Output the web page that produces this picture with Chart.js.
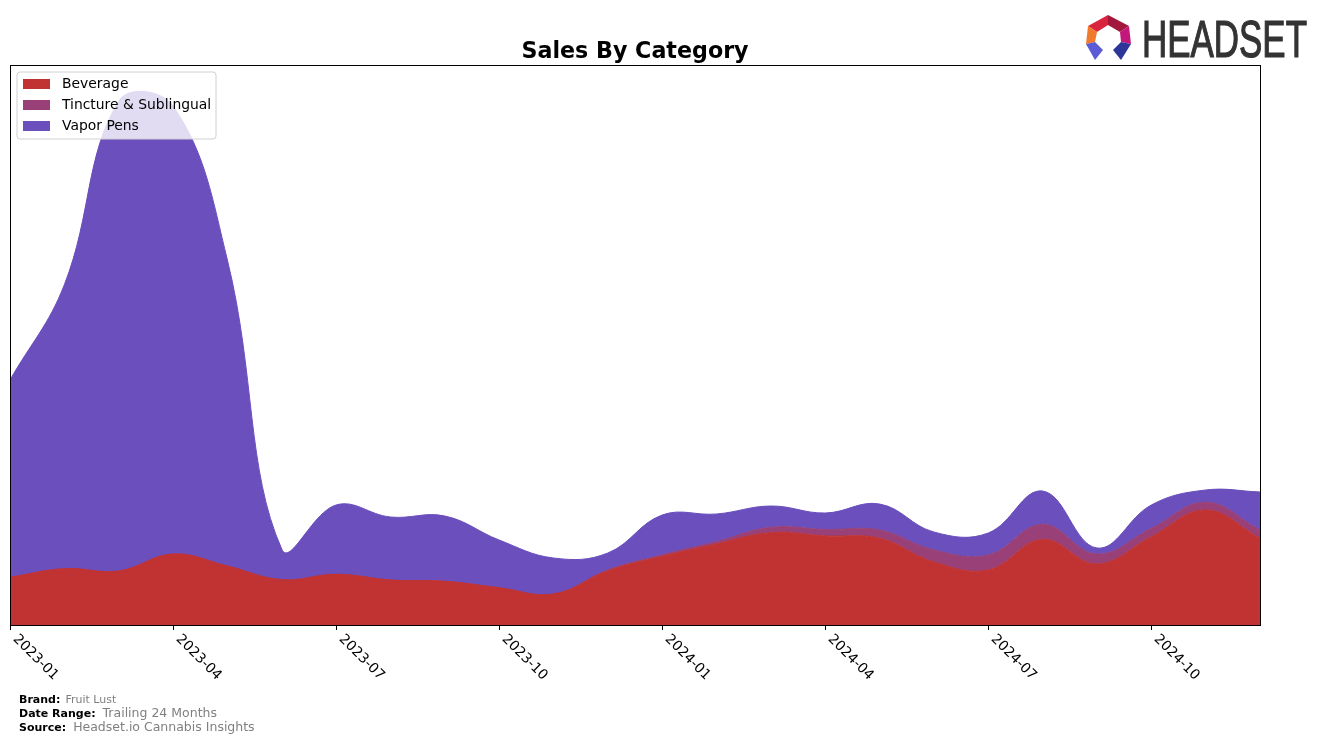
<!DOCTYPE html>
<html><head><meta charset="utf-8">
<script src="https://cdn.jsdelivr.net/npm/chart.js@4.4.1/dist/chart.umd.min.js"></script>
<style>
html,body{margin:0;padding:0;background:#fff;width:1324px;height:742px;overflow:hidden;position:relative;font-family:"DejaVu Sans",sans-serif;}
#c{position:absolute;left:0;top:0;}
.foot{position:absolute;left:19px;white-space:nowrap;color:#000;line-height:1;}
.foot b{font-weight:bold;font-size:11px;}
.g{color:#808080;}
#logo{position:absolute;left:0;top:0;}
</style></head><body>
<canvas id="c" width="1324" height="742"></canvas>
<svg id="logo" width="1324" height="70">
  <polygon points="1108,15 1088,26 1097,32 1108,25" fill="#d8243c"/>
  <polygon points="1108,15 1129,26 1120,32 1108,25" fill="#a3173c"/>
  <polygon points="1088,26 1086,44 1095,42 1097,32" fill="#f07a2c"/>
  <polygon points="1129,26 1131,44 1121,42 1120,32" fill="#c2187c"/>
  <polygon points="1086,44 1095,42 1103,50 1095,60" fill="#5b5bd6"/>
  <polygon points="1131,44 1121,42 1113,50 1121,60" fill="#2e3598"/>
  <text x="1142" y="57" font-family="Liberation Sans Narrow, Liberation Sans, sans-serif" font-size="52" fill="#333333" stroke="#333333" stroke-width="1.2" textLength="165" lengthAdjust="spacingAndGlyphs">HEADSET</text>
</svg>
<div class="foot" style="top:690px;"><b>Brand:</b> <span class="g" style="font-size:11px;">Fruit Lust</span></div>
<div class="foot" style="top:704px;"><b>Date Range:</b><span class="g" style="font-size:12.5px;margin-left:7px;">Trailing 24 Months</span></div>
<div class="foot" style="top:718px;"><b>Source:</b><span class="g" style="font-size:12.5px;margin-left:7px;">Headset.io Cannabis Insights</span></div>
<script>
const months = ["2023-01","2023-02","2023-03","2023-04","2023-05","2023-06","2023-07","2023-08","2023-09","2023-10","2023-11","2023-12",
                "2024-01","2024-02","2024-03","2024-04","2024-05","2024-06","2024-07","2024-08","2024-09","2024-10","2024-11","2024-12"];
const tickLabels = ["2023-01","2023-04","2023-07","2023-10","2024-01","2024-04","2024-07","2024-10"];
const beverage = [47.7, 56.3, 54, 71, 59, 45.3, 50.7, 45, 43.7, 37.3, 31, 54.3, 68.7, 81, 92.3, 89, 86.7, 63, 55, 85.7, 61, 88.3, 115, 86.7];
const tincture = [0, 0, 0, 0, 0, 0, 0, 0, 0, 0, 0, 0.8, 1.5, 2.5, 5.4, 6.5, 8.3, 12, 15, 15, 10, 8.4, 7.7, 8.3];
const vaporPens = [197.3, 284, 470, 448, 306, 30.7, 69.3, 63, 65.3, 47.7, 36, 16.9, 39.8, 27.5, 21.3, 16.5, 26, 18, 22, 33.3, 6, 23.3, 12.3, 38];
const seriesNames = ["Beverage", "Tincture & Sublingual", "Vapor Pens"];
const seriesColors = ["#c03332", "#984077", "#6a4fbd"];
const chartTitle = "Sales By Category";

const overlay = {
  id: "overlay",
  afterDraw(chart) {
    const ctx = chart.ctx, a = chart.chartArea, xs = chart.scales.x;
    ctx.save();
    ctx.strokeStyle = "#000"; ctx.lineWidth = 1;
    ctx.strokeRect(Math.round(a.left) + 0.5, Math.round(a.top) + 0.5, Math.round(a.right - a.left), Math.round(a.bottom - a.top));
    ctx.fillStyle = "#000";
    ctx.font = "13.9px 'DejaVu Sans'";
    ctx.textAlign = "left"; ctx.textBaseline = "top";
    tickLabels.forEach(lab => {
      const x = Math.round(xs.getPixelForValue(months.indexOf(lab)));
      ctx.beginPath(); ctx.moveTo(x + 0.5, a.bottom); ctx.lineTo(x + 0.5, a.bottom + 5); ctx.stroke();
      ctx.save();
      ctx.translate(x + 10, a.bottom + 7);
      ctx.rotate(Math.PI / 4);
      ctx.fillText(lab, 0, 0);
      ctx.restore();
    });
    ctx.font = "bold 22.2px 'DejaVu Sans'";
    ctx.textAlign = "center"; ctx.textBaseline = "alphabetic";
    ctx.fillText(chartTitle, (a.left + a.right) / 2, 58);
    const lx = 17, ly = 72, lw = 199, lh = 67, r = 3;
    ctx.beginPath();
    ctx.moveTo(lx + r, ly); ctx.lineTo(lx + lw - r, ly); ctx.quadraticCurveTo(lx + lw, ly, lx + lw, ly + r);
    ctx.lineTo(lx + lw, ly + lh - r); ctx.quadraticCurveTo(lx + lw, ly + lh, lx + lw - r, ly + lh);
    ctx.lineTo(lx + r, ly + lh); ctx.quadraticCurveTo(lx, ly + lh, lx, ly + lh - r);
    ctx.lineTo(lx, ly + r); ctx.quadraticCurveTo(lx, ly, lx + r, ly); ctx.closePath();
    ctx.fillStyle = "rgba(255,255,255,0.8)"; ctx.fill();
    ctx.strokeStyle = "#d0d0d0"; ctx.stroke();
    ctx.font = "13.9px 'DejaVu Sans'"; ctx.textAlign = "left"; ctx.textBaseline = "middle";
    chart.data.datasets.forEach((ds, i) => {
      const cy = 84 + i * 21;
      ctx.fillStyle = ds.backgroundColor;
      ctx.fillRect(23, cy - 5, 27, 10);
      ctx.fillStyle = "#000";
      ctx.fillText(ds.label, 62, cy + 0.5);
    });
    ctx.restore();
  }
};

const data = [beverage, tincture, vaporPens];
new Chart(document.getElementById("c"), {
  type: "line",
  data: {
    labels: months,
    datasets: data.map((d, i) => ({
      label: seriesNames[i],
      data: d,
      backgroundColor: seriesColors[i],
      borderColor: seriesColors[i],
      borderWidth: 1,
      fill: i === 0 ? "origin" : "-1",
      pointRadius: 0,
      tension: 0.4
    }))
  },
  options: {
    responsive: false,
    animation: false,
    devicePixelRatio: 1,
    layout: { padding: { left: 10, right: 64, top: 65, bottom: 117 } },
    scales: {
      x: { display: false, offset: false },
      y: { display: false, stacked: true, min: 0, max: 560 }
    },
    plugins: { legend: { display: false }, tooltip: { enabled: false }, title: { display: false } }
  },
  plugins: [overlay]
});
</script>
</body></html>
